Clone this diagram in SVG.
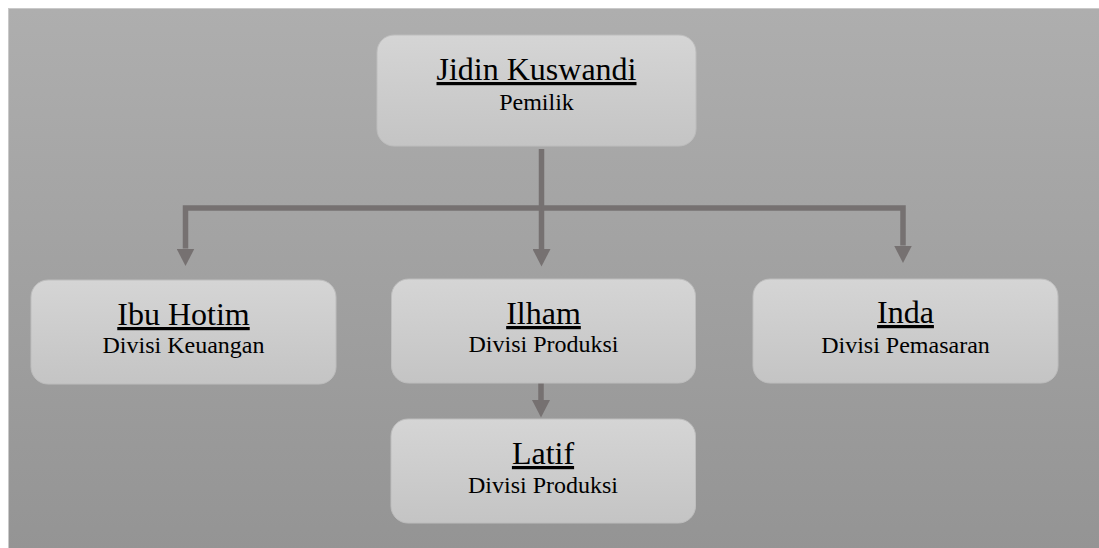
<svg xmlns="http://www.w3.org/2000/svg" width="1099" height="548" viewBox="0 0 1099 548">
  <defs>
    <linearGradient id="bgFill" x1="0" y1="0" x2="0" y2="1">
      <stop offset="0" stop-color="#aeaeae"/>
      <stop offset="1" stop-color="#949494"/>
    </linearGradient>
    <linearGradient id="boxFill" x1="0" y1="0" x2="0" y2="1">
      <stop offset="0" stop-color="#d5d5d5"/>
      <stop offset="1" stop-color="#c4c4c4"/>
    </linearGradient>
    <marker id="arrow" markerUnits="userSpaceOnUse" viewBox="0 0 18 18" markerWidth="18" markerHeight="18" refX="0" refY="9" orient="auto">
      <path d="M0,0 L17.5,9 L0,18 Z" fill="#767171"/>
    </marker>
    <style>
      .box { fill: url(#boxFill); stroke: #bdbdbd; stroke-width: 1; }
      .name { font-family: "Liberation Serif", "Times New Roman", serif; font-size: 32px; fill: #000; text-anchor: middle; text-decoration: underline; }
      .role { font-family: "Liberation Serif", "Times New Roman", serif; font-size: 24px; fill: #000; text-anchor: middle; }
      .link { fill: none; stroke: #767171; stroke-width: 5.5; stroke-linejoin: miter; marker-end: url(#arrow); }
    </style>
  </defs>

  <!-- panel -->
  <rect x="8.5" y="8.5" width="1092" height="541" fill="url(#bgFill)" stroke="#c9c9c9" stroke-width="1"/>

  <!-- connectors -->
  <g id="connectors">
    <path class="link" d="M541.5,149 V249"/>
    <path class="link" d="M541.5,208 H185.5 V248.5"/>
    <path class="link" d="M541.5,208 H903 V245.5"/>
    <path class="link" d="M541,383 V400"/>
  </g>

  <g id="node-jidin">
    <rect class="box" x="377" y="35" width="319" height="111" rx="17"/>
    <text class="name" x="536.5" y="80">Jidin Kuswandi</text>
    <text class="role" x="536.5" y="110">Pemilik</text>
  </g>

  <g id="node-hotim">
    <rect class="box" x="31" y="280" width="305" height="104" rx="17"/>
    <text class="name" x="183.5" y="325">Ibu Hotim</text>
    <text class="role" x="183.5" y="353">Divisi Keuangan</text>
  </g>

  <g id="node-ilham">
    <rect class="box" x="391.5" y="279" width="304" height="104" rx="17"/>
    <text class="name" x="543.5" y="324">Ilham</text>
    <text class="role" x="543.5" y="352">Divisi Produksi</text>
  </g>

  <g id="node-inda">
    <rect class="box" x="753" y="279" width="305" height="104" rx="17"/>
    <text class="name" x="905.5" y="323">Inda</text>
    <text class="role" x="905.5" y="353">Divisi Pemasaran</text>
  </g>

  <g id="node-latif">
    <rect class="box" x="391" y="419" width="304.5" height="104" rx="17"/>
    <text class="name" x="543" y="464">Latif</text>
    <text class="role" x="543" y="493">Divisi Produksi</text>
  </g>
</svg>
